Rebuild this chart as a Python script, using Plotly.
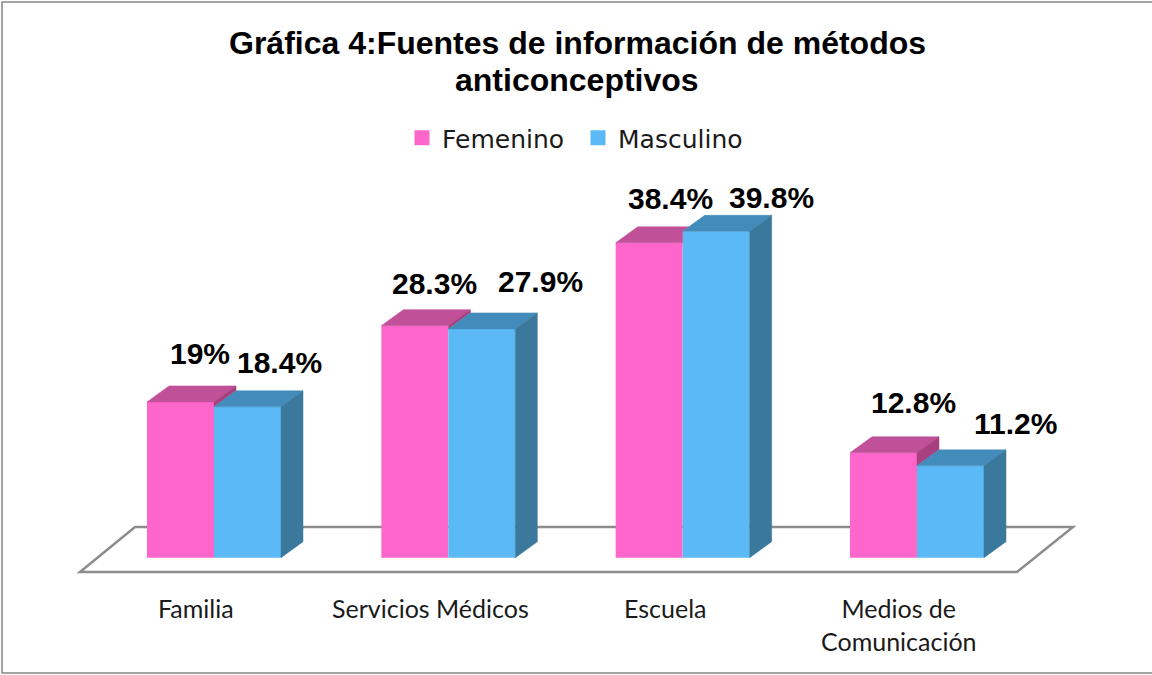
import plotly.graph_objects as go

# ---------------- data ----------------
categories = ["Familia", "Servicios Médicos", "Escuela", "Medios de<br>Comunicación"]
femenino = [19.0, 28.3, 38.4, 12.8]
masculino = [18.4, 27.9, 39.8, 11.2]
fem_labels = ["19%", "28.3%", "38.4%", "12.8%"]
masc_labels = ["18.4%", "27.9%", "39.8%", "11.2%"]
series_names = ["Femenino", "Masculino"]

# ---------------- geometry / style ----------------
W, H = 1152, 675
X0_PX, X_STEP = 214.0, 234.33      # pixel of category 0, pixels per category
Y0_PX, Y_STEP = 557.7, 8.2         # pixel of value 0, pixels per percent


def px2x(px):
    return (px - X0_PX) / X_STEP


def py2y(py):
    return (Y0_PX - py) / Y_STEP


BW = 67 / X_STEP      # bar width (data units)
DX = 22 / X_STEP      # depth offset x
DY = 16 / Y_STEP      # depth offset y

PINK, PINK_TOP, PINK_SIDE = "#FF66CC", "#C05098", "#A8407F"
BLUE, BLUE_TOP, BLUE_SIDE = "#5BB9F5", "#438BBA", "#3A789C"

# label offsets in pixels (relative to front-top centre of each bar)
fem_lab_dx = [19, 20, 21, 30]
fem_lab_dy = [48, 42, 44, 50]
masc_lab_dx = [32, 59, 55, 65]
masc_lab_dy = [44, 47, 34, 42]

xs = list(range(len(categories)))

fig = go.Figure()

# front faces
fig.add_trace(go.Bar(x=xs, y=femenino, width=BW, offset=-BW, marker=dict(color=PINK, line=dict(width=0)),
                     name=series_names[0], showlegend=False, hoverinfo="skip"))
fig.add_trace(go.Bar(x=xs, y=masculino, width=BW, offset=0, marker=dict(color=BLUE, line=dict(width=0)),
                     name=series_names[1], showlegend=False, hoverinfo="skip"))


def poly_trace(polys, color):
    px_, py_ = [], []
    for p in polys:
        for (a, b) in p:
            px_.append(a)
            py_.append(b)
        px_.append(p[0][0]); py_.append(p[0][1])
        px_.append(None); py_.append(None)
    return go.Scatter(x=px_, y=py_, mode="lines", fill="toself", fillcolor=color,
                      line=dict(color=color, width=0.5), hoverinfo="skip", showlegend=False)


pink_tops, pink_sides, blue_tops, blue_sides = [], [], [], []
for i, (vp, vb) in enumerate(zip(femenino, masculino)):
    xl, xr = i - BW, i
    if vp >= vb:
        pink_tops.append([(xl, vp), (xr, vp), (xr + DX, vp + DY), (xl + DX, vp + DY)])
        pink_sides.append([(xr, vb), (xr, vp), (xr + DX, vp + DY), (xr + DX, vb + DY)])
    else:
        t = max(0.0, min(1.0, (vp + DY - vb) / DY))
        pink_tops.append([(xl, vp), (xr, vp), (xr, min(vb, vp + DY)), (xr + t * DX, vp + DY), (xl + DX, vp + DY)])
    blue_tops.append([(xr, vb), (xr + BW, vb), (xr + BW + DX, vb + DY), (xr + DX, vb + DY)])
    blue_sides.append([(xr + BW, 0), (xr + BW, vb), (xr + BW + DX, vb + DY), (xr + BW + DX, DY)])

fig.add_trace(poly_trace(pink_tops, PINK_TOP))
fig.add_trace(poly_trace(pink_sides, PINK_SIDE))
fig.add_trace(poly_trace(blue_tops, BLUE_TOP))
fig.add_trace(poly_trace(blue_sides, BLUE_SIDE))

# legend entries
fig.add_trace(go.Scatter(x=[None], y=[None], mode="markers", name=series_names[0],
                         marker=dict(symbol="square", size=15, color=PINK), legend="legend"))
fig.add_trace(go.Scatter(x=[None], y=[None], mode="markers", name=series_names[1],
                         marker=dict(symbol="square", size=15, color=BLUE), legend="legend2"))

annotations = []
# data labels
lab_font = dict(family="Liberation Sans, Arial", size=30, color="#000000", weight="bold")
for i in xs:
    annotations.append(dict(x=i - BW / 2, y=femenino[i], xref="x", yref="y", text=fem_labels[i],
                            showarrow=False, xshift=fem_lab_dx[i], yshift=fem_lab_dy[i],
                            xanchor="center", yanchor="middle", font=lab_font))
    annotations.append(dict(x=i + BW / 2, y=masculino[i], xref="x", yref="y", text=masc_labels[i],
                            showarrow=False, xshift=masc_lab_dx[i], yshift=masc_lab_dy[i],
                            xanchor="center", yanchor="middle", font=lab_font))
# category labels
cat_font = dict(family="Lato, Calibri, sans-serif", size=25, color="#1a1a1a")
for i, c in enumerate(categories):
    annotations.append(dict(x=i, y=1 - 591 / H, xref="x", yref="paper", text=c, showarrow=False,
                            xshift=-18, xanchor="center", yanchor="top", align="center", font=cat_font))
# title
title_font = dict(family="Liberation Sans, Arial", size=32, color="#000000", weight="bold")
annotations.append(dict(x=577 / W, y=1 - 43 / H, xref="paper", yref="paper",
                        text="Gráfica 4:Fuentes de información de métodos", showarrow=False,
                        xanchor="center", yanchor="middle", font=title_font))
annotations.append(dict(x=577 / W, y=1 - 80 / H, xref="paper", yref="paper",
                        text="anticonceptivos", showarrow=False,
                        xanchor="center", yanchor="middle", font=title_font))

shapes = [
    # floor
    dict(type="path", xref="x", yref="y", layer="below",
         path="M {a},{b} L {c},{b} L {d},{e} L {f},{e} Z".format(
             a=px2x(80), b=py2y(572), c=px2x(1017), d=px2x(1073), e=py2y(527), f=px2x(135)),
         line=dict(color="#8C8C8C", width=2.5), fillcolor="white"),
    # outer frame
    dict(type="rect", xref="paper", yref="paper", x0=2 / W, x1=1.01, y0=1 - 673 / H, y1=1 - 2 / H,
         line=dict(color="#868686", width=1.5), fillcolor="rgba(0,0,0,0)", layer="below"),
]

leg_font = dict(family="DejaVu Sans", size=25, color="#1a1a1a")
fig.update_layout(
    width=W, height=H,
    margin=dict(l=0, r=0, t=0, b=0, pad=0),
    paper_bgcolor="white", plot_bgcolor="white",
    barmode="overlay",
    xaxis=dict(range=[px2x(0), px2x(W)], visible=False, fixedrange=True),
    yaxis=dict(range=[py2y(H), py2y(0)], visible=False, fixedrange=True),
    showlegend=True,
    legend=dict(x=402 / W, y=1 - 138 / H, xanchor="left", yanchor="middle", orientation="h",
                font=leg_font, bgcolor="rgba(0,0,0,0)", borderwidth=0),
    legend2=dict(x=578 / W, y=1 - 138 / H, xanchor="left", yanchor="middle", orientation="h",
                 font=leg_font, bgcolor="rgba(0,0,0,0)", borderwidth=0),
    annotations=annotations,
    shapes=shapes,
)

fig.write_html("out.html", config={"displayModeBar": False},
               post_script="document.body.style.margin='0';")
